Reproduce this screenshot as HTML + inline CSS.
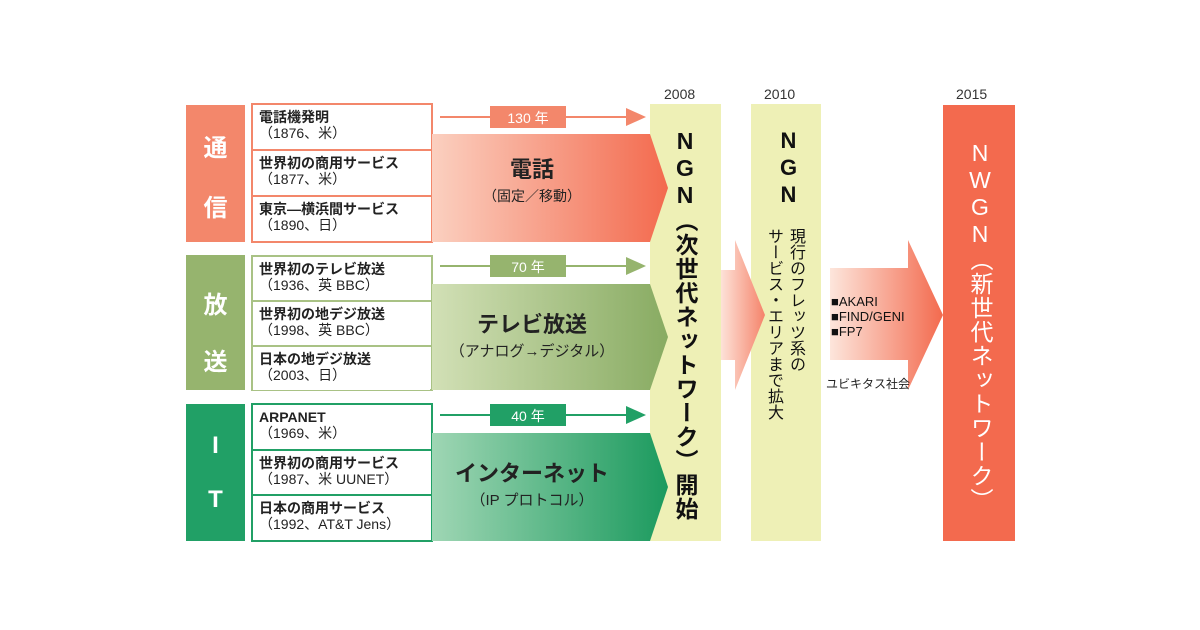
<!DOCTYPE html>
<html><head><meta charset="utf-8"><style>
body{margin:0;width:1200px;height:630px;background:#fff;position:relative;overflow:hidden;font-family:"Liberation Sans","Noto Sans CJK JP",sans-serif;}
.a{position:absolute;}
.cell{position:absolute;left:253px;width:177px;height:43px;background:#fff;font-size:14px;line-height:16px;font-weight:bold;color:#222;padding:4px 0 0 6px;box-sizing:border-box;}
.cell span{font-weight:normal;}
.cat{position:absolute;left:186px;width:59px;color:#fff;font-size:24px;text-align:center;font-weight:bold;}
.v{writing-mode:vertical-rl;text-orientation:upright;font-weight:bold;}
.yr{position:absolute;top:86px;font-size:14px;color:#333;}
</style></head><body>
<svg class="a" style="left:0;top:0" width="1200" height="630">
<defs>
<linearGradient id="r" x1="0" x2="1"><stop offset="0" stop-color="#fbd0c0"/><stop offset="1" stop-color="#f36a4e"/></linearGradient>
<linearGradient id="g" x1="0" x2="1"><stop offset="0" stop-color="#d2e0b6"/><stop offset="1" stop-color="#88ab62"/></linearGradient>
<linearGradient id="t" x1="0" x2="1"><stop offset="0" stop-color="#9fd6b4"/><stop offset="1" stop-color="#1b9a5e"/></linearGradient>
<linearGradient id="p" x1="0" x2="1"><stop offset="0" stop-color="#fde2d8"/><stop offset="1" stop-color="#f5836a"/></linearGradient>
<linearGradient id="p2" x1="0" x2="1"><stop offset="0" stop-color="#fde6dc"/><stop offset="1" stop-color="#f36a4e"/></linearGradient>
</defs>
<rect x="186" y="105" width="59" height="137" fill="#f3876b"/>
<rect x="186" y="255" width="59" height="135" fill="#96b46e"/>
<rect x="186" y="404" width="59" height="137" fill="#21a066"/>
<rect x="252" y="104" width="180" height="138" fill="#fff" stroke="#f3876b" stroke-width="2"/>
<rect x="252" y="256" width="180" height="134" fill="#fff" stroke="#a9c285" stroke-width="2"/>
<rect x="252" y="404" width="180" height="137" fill="#fff" stroke="#21a066" stroke-width="2"/>
<line x1="252" y1="150" x2="432" y2="150" stroke="#f3876b" stroke-width="2"/>
<line x1="252" y1="196" x2="432" y2="196" stroke="#f3876b" stroke-width="2"/>
<line x1="252" y1="301" x2="432" y2="301" stroke="#a9c285" stroke-width="2"/>
<line x1="252" y1="346" x2="432" y2="346" stroke="#a9c285" stroke-width="2"/>
<line x1="252" y1="450" x2="432" y2="450" stroke="#21a066" stroke-width="2"/>
<line x1="252" y1="495" x2="432" y2="495" stroke="#21a066" stroke-width="2"/>
<rect x="650" y="104" width="71" height="437" fill="#eef0b6"/>
<rect x="751" y="104" width="70" height="437" fill="#eef0b6"/>
<rect x="943" y="105" width="72" height="436" fill="#f36a4e"/>
<polygon points="432,134 650,134 668,188 650,242 432,242" fill="url(#r)"/>
<polygon points="432,284 650,284 668,337 650,390 432,390" fill="url(#g)"/>
<polygon points="432,433 650,433 668,487 650,541 432,541" fill="url(#t)"/>
<line x1="440" y1="117" x2="630" y2="117" stroke="#f3876b" stroke-width="2"/>
<polygon points="626,108 646,117 626,126" fill="#f3876b"/>
<rect x="490" y="106" width="76" height="22" fill="#f3876b"/>
<line x1="440" y1="266" x2="630" y2="266" stroke="#96b46e" stroke-width="2"/>
<polygon points="626,257 646,266 626,275" fill="#96b46e"/>
<rect x="490" y="255" width="76" height="22" fill="#96b46e"/>
<line x1="440" y1="415" x2="630" y2="415" stroke="#21a066" stroke-width="2"/>
<polygon points="626,406 646,415 626,424" fill="#21a066"/>
<rect x="490" y="404" width="76" height="22" fill="#21a066"/>
<polygon points="721,270 735,270 735,240 765,315 735,390 735,360 721,360" fill="url(#p)"/>
<polygon points="830,268 908,268 908,240 943,315 908,390 908,360 830,360" fill="url(#p2)"/>
</svg>
<div class="cat" style="top:128px">通</div>
<div class="cat" style="top:188px">信</div>
<div class="cat" style="top:285px">放</div>
<div class="cat" style="top:342px">送</div>
<div class="cat" style="top:432px">I</div>
<div class="cat" style="top:486px">T</div>

<div class="cell" style="top:105px">電話機発明<br><span>（1876、米）</span></div>
<div class="cell" style="top:151px">世界初の商用サービス<br><span>（1877、米）</span></div>
<div class="cell" style="top:197px">東京―横浜間サービス<br><span>（1890、日）</span></div>
<div class="cell" style="top:257px">世界初のテレビ放送<br><span>（1936、英 BBC）</span></div>
<div class="cell" style="top:302px">世界初の地デジ放送<br><span>（1998、英 BBC）</span></div>
<div class="cell" style="top:347px">日本の地デジ放送<br><span>（2003、日）</span></div>
<div class="cell" style="top:405px">ARPANET<br><span>（1969、米）</span></div>
<div class="cell" style="top:451px">世界初の商用サービス<br><span>（1987、米 UUNET）</span></div>
<div class="cell" style="top:496px">日本の商用サービス<br><span>（1992、AT&amp;T Jens）</span></div>

<div class="a" style="left:490px;top:108px;width:76px;text-align:center;color:#fff;font-size:14px">130 年</div>
<div class="a" style="left:490px;top:257px;width:76px;text-align:center;color:#fff;font-size:14px">70 年</div>
<div class="a" style="left:490px;top:406px;width:76px;text-align:center;color:#fff;font-size:14px">40 年</div>

<div class="a" style="left:432px;top:158px;width:200px;text-align:center;font-size:22px;font-weight:bold;color:#222;line-height:24px">電話<br><span style="font-size:14px;font-weight:normal">（固定／移動）</span></div>
<div class="a" style="left:432px;top:313px;width:200px;text-align:center;font-size:22px;font-weight:bold;color:#222;line-height:24px">テレビ放送<br><span style="font-size:15px;font-weight:normal">（アナログ→デジタル）</span></div>
<div class="a" style="left:432px;top:462px;width:200px;text-align:center;font-size:22px;font-weight:bold;color:#222;line-height:24px">インターネット<br><span style="font-size:15px;font-weight:normal">（IP プロトコル）</span></div>

<div class="yr" style="left:664px">2008</div>
<div class="yr" style="left:764px">2010</div>
<div class="yr" style="left:956px">2015</div>

<div class="a v" style="left:671px;top:128px;font-size:23px;line-height:28px;color:#111;letter-spacing:1px">NGN（次世代ネットワーク）開始</div>
<div class="a v" style="left:774px;top:128px;font-size:22px;line-height:28px;color:#111;letter-spacing:2px">NGN</div>
<div class="a v" style="left:762px;top:228px;font-size:16px;line-height:22px;color:#111;font-weight:normal">現行のフレッツ系の<br>サービス・エリアまで拡大</div>
<div class="a v" style="left:966px;top:140px;font-size:23px;line-height:28px;color:#fff;font-weight:normal;letter-spacing:1px">NWGN（新世代ネットワーク）</div>

<div class="a" style="left:831px;top:294px;font-size:13px;line-height:15px;color:#111">■AKARI<br>■FIND/GENI<br>■FP7</div>
<div class="a" style="left:826px;top:375px;font-size:12px;color:#222">ユビキタス社会</div>
</body></html>
